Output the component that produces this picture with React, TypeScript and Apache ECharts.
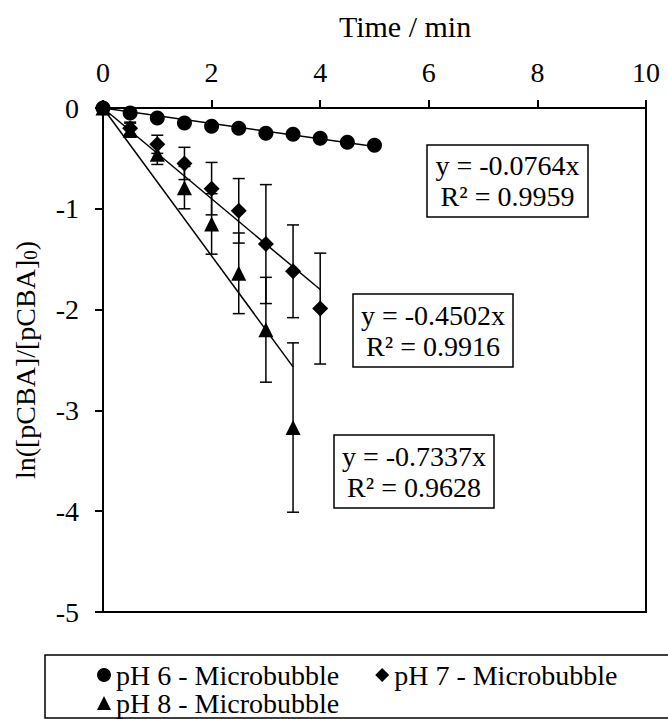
import React, { useEffect, useRef } from "react";
import * as echarts from "echarts";

// Sampling times (min)
const TIME = [0, 0.5, 1, 1.5, 2, 2.5, 3, 3.5, 4, 4.5, 5];

// ln([pCBA]/[pCBA]0) for each pH
const PH6 = [0, -0.05, -0.1, -0.15, -0.18, -0.2, -0.25, -0.26, -0.3, -0.34, -0.37];
const PH7 = [0, -0.2, -0.36, -0.55, -0.8, -1.02, -1.35, -1.62, -1.99];
const PH7_ERR = [0, 0.06, 0.09, 0.16, 0.26, 0.32, 0.59, 0.46, 0.55];
const PH8 = [0, -0.22, -0.46, -0.79, -1.15, -1.64, -2.2, -3.17];
const PH8_ERR = [0, 0.07, 0.1, 0.21, 0.3, 0.4, 0.52, 0.84];

// Linear fits through the origin
const SLOPES = [-0.0764, -0.4502, -0.7337];
const R2 = ["0.9959", "0.9916", "0.9628"];
const FIT_END = [5, 4, 3.5];

const NAMES = ["pH 6 - Microbubble", "pH 7 - Microbubble", "pH 8 - Microbubble"];
const SYMBOLS = ["circle", "diamond", "triangle"];

const FONT = '"Liberation Serif", "Times New Roman", serif';
const FS = 28;

const points = (ys: number[]) => ys.map((y, i) => [TIME[i], y]);
const errRows = (ys: number[], es: number[]) =>
  ys.map((y, i) => [TIME[i], y - es[i], y + es[i]]).filter((_, i) => es[i] > 0);

const errorBarSeries = (name: string, rows: number[][]) => ({
  type: "custom",
  name,
  data: rows,
  z: 3,
  renderItem: (_p: any, api: any) => {
    const x = api.value(0);
    const lo = api.coord([x, api.value(1)]);
    const hi = api.coord([x, api.value(2)]);
    const w = 6;
    const st = { stroke: "#000", lineWidth: 1.5 };
    return {
      type: "group",
      children: [
        { type: "line", shape: { x1: lo[0], y1: lo[1], x2: hi[0], y2: hi[1] }, style: st },
        { type: "line", shape: { x1: lo[0] - w, y1: lo[1], x2: lo[0] + w, y2: lo[1] }, style: st },
        { type: "line", shape: { x1: hi[0] - w, y1: hi[1], x2: hi[0] + w, y2: hi[1] }, style: st },
      ],
    };
  },
});

const fitSeries = (k: number) => ({
  type: "line",
  name: "fit" + k,
  data: [
    [0, 0],
    [FIT_END[k], SLOPES[k] * FIT_END[k]],
  ],
  symbol: "none",
  lineStyle: { color: "#000", width: 1.5 },
  z: 2,
});

const markerSeries = (k: number, ys: number[], size: number | number[]) => ({
  type: "scatter",
  name: NAMES[k],
  data: points(ys),
  symbol: SYMBOLS[k],
  symbolSize: size,
  itemStyle: { color: "#000", opacity: 1 },
  z: 4,
});

// Equation boxes: [left, top, width, height]
const BOXES = [
  [427, 145, 161, 72],
  [353, 294, 160, 73],
  [334, 435, 160, 73],
];

const eqGraphics = BOXES.map((b, k) => ({
  type: "group",
  children: [
    {
      type: "rect",
      shape: { x: b[0], y: b[1], width: b[2], height: b[3] },
      style: { fill: "#fff", stroke: "#000", lineWidth: 1.5 },
      z: 10,
    },
    {
      type: "text",
      x: b[0] + b[2] / 2,
      y: b[1] + b[3] / 2,
      z: 11,
      style: {
        text: `y = ${SLOPES[k].toFixed(4)}x\nR² = ${R2[k]}`,
        font: `${FS}px ${FONT}`,
        fill: "#000",
        align: "center",
        verticalAlign: "middle",
        textAlign: "center",
        textVerticalAlign: "middle",
        lineHeight: 31,
      },
    },
  ],
}));

export default function App() {
  const ref = useRef<HTMLDivElement>(null);

  useEffect(() => {
    const chart = echarts.init(ref.current!, null, { renderer: "svg" });
    const legendText = { color: "#000", fontFamily: FONT, fontSize: FS };
    chart.setOption({
      animation: false,
      backgroundColor: "#fff",
      title: {
        text: "Time / min",
        left: 400,
        top: 6,
        textAlign: "center",
        textStyle: { color: "#000", fontFamily: FONT, fontSize: 30, fontWeight: "normal" },
      },
      grid: {
        left: 103,
        top: 108,
        width: 543,
        height: 504,
        show: true,
        borderColor: "#000",
        borderWidth: 2,
        containLabel: false,
      },
      xAxis: {
        type: "value",
        position: "top",
        min: 0,
        max: 10,
        interval: 2,
        axisLine: { show: true, lineStyle: { color: "#000", width: 2 } },
        axisTick: { show: true, inside: false, length: 8, lineStyle: { color: "#000", width: 2 } },
        axisLabel: { color: "#000", fontFamily: FONT, fontSize: FS, margin: 22 },
        splitLine: { show: false },
      },
      yAxis: {
        type: "value",
        min: -5,
        max: 0,
        interval: 1,
        name: "{a|ln([pCBA]/[pCBA]}{b|0}{a|)}",
        nameLocation: "middle",
        nameRotate: 90,
        nameGap: 62,
        nameTextStyle: {
          rich: {
            a: {
              color: "#000",
              fontFamily: FONT,
              fontSize: FS,
              lineHeight: 28,
              verticalAlign: "top",
              padding: [0, 0, 5, 0],
            },
            b: {
              color: "#000",
              fontFamily: FONT,
              fontSize: 19,
              lineHeight: 19,
              verticalAlign: "bottom",
            },
          },
        },
        axisLine: { show: true, lineStyle: { color: "#000", width: 2 } },
        axisTick: { show: true, inside: false, length: 8, lineStyle: { color: "#000", width: 2 } },
        axisLabel: { color: "#000", fontFamily: FONT, fontSize: FS, margin: 24 },
        splitLine: { show: false },
      },
      legend: [
        {
          data: [
            { name: NAMES[0], icon: "circle" },
            { name: NAMES[1], icon: "diamond" },
          ],
          left: 97,
          top: 661,
          itemWidth: 14,
          itemHeight: 14,
          itemGap: 36,
          padding: 0,
          textStyle: legendText,
          selectedMode: false,
        },
        {
          data: [{ name: NAMES[2], icon: "triangle" }],
          left: 97,
          top: 689,
          itemWidth: 14,
          itemHeight: 14,
          padding: 0,
          textStyle: legendText,
          selectedMode: false,
        },
      ],
      graphic: [
        {
          type: "rect",
          shape: { x: 45, y: 655, width: 640, height: 63 },
          style: { fill: "none", stroke: "#000", lineWidth: 1.5 },
          z: 1,
        },
        ...eqGraphics,
      ],
      series: [
        fitSeries(0),
        fitSeries(1),
        fitSeries(2),
        errorBarSeries("err7", errRows(PH7, PH7_ERR)),
        errorBarSeries("err8", errRows(PH8, PH8_ERR)),
        markerSeries(0, PH6, 15),
        markerSeries(1, PH7, 16),
        markerSeries(2, PH8, 15),
      ],
    });
    return () => chart.dispose();
  }, []);

  return (
    <div
      ref={ref}
      style={{ position: "absolute", left: 0, top: 0, width: 668, height: 719 }}
    />
  );
}
